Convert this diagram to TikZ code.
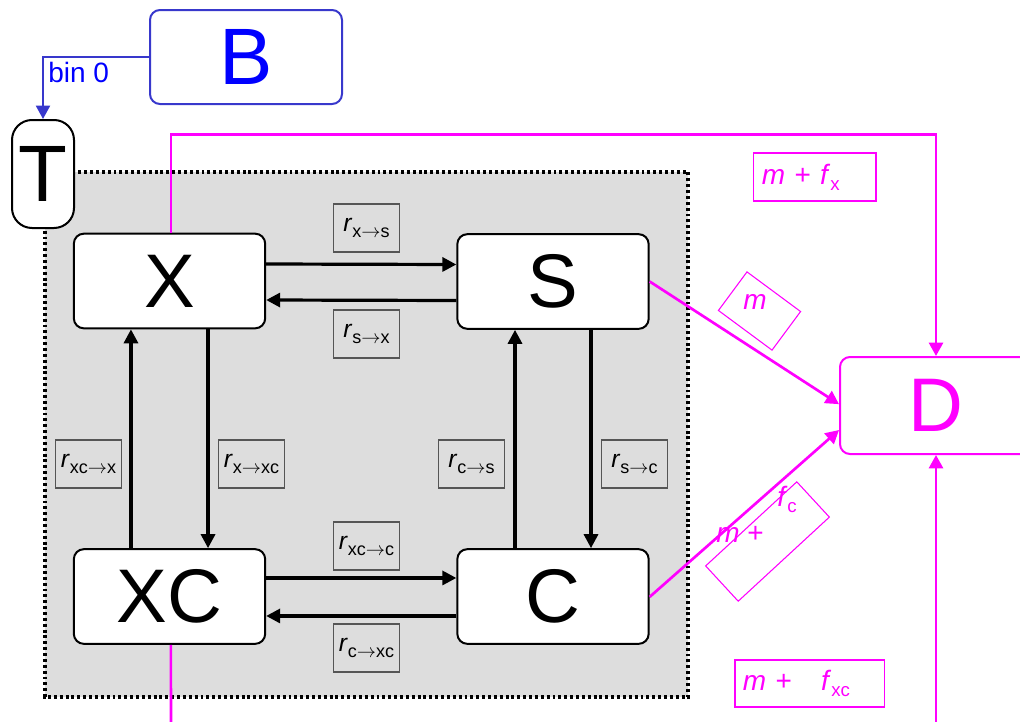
\documentclass[tikz,border=0pt]{standalone}
\usepackage{fontspec}
\setmainfont{Liberation Sans}
\usetikzlibrary{arrows.meta}
\definecolor{magen}{HTML}{FF00FF}
\definecolor{bluetxt}{HTML}{0000FF}
\definecolor{blueline}{HTML}{3838CC}
\definecolor{panel}{HTML}{DDDDDD}
\definecolor{ratebd}{HTML}{555555}
% rate label: italic r with an upright subscript "from -> to"
\newcommand\rate[2]{\textit{r}\raisebox{-0.45ex}{\fontsize{13.5}{15}\selectfont #1$\rightarrow$#2}}
% small upright subscript for the flux labels
\newcommand\flx[1]{\textit{f}\raisebox{-0.4ex}{\fontsize{14}{16}\selectfont #1}}
\begin{document}
\begin{tikzpicture}[x=0.75pt,y=-0.75pt,
  state/.style={draw=black, line width=1.5pt, fill=white, rounded corners=7.5pt,
    minimum width=143.5pt, minimum height=71pt, inner sep=0pt,
    font=\fontsize{57}{60}\selectfont},
  ratebox/.style={draw=ratebd, line width=0.8pt, fill=panel, minimum width=50pt,
    minimum height=36pt, inner sep=0pt, font=\fontsize{18.5}{20}\selectfont},
  flow/.style={line width=2.4pt, -{Triangle[length=10.5pt,width=10.5pt]}},
  magflow/.style={draw=magen, line width=2pt, -{Triangle[length=10pt,width=10.5pt]}},
  magline/.style={draw=magen, line width=2pt},
  maglbl/.style={draw=magen, line width=0.8pt, inner sep=0pt, text=magen,
    font=\fontsize{21}{24}\selectfont},
  magtxt/.style={text=magen, inner sep=0pt, font=\fontsize{21}{24}\selectfont},
]
\useasboundingbox (0,0) rectangle (1020,721);

% compartment panel
\draw[fill=panel, line width=2.4pt, dash pattern=on 2.2pt off 2.2pt] (45,172) rectangle (688,697);

% states
\node[state] (X)  at (169.5,281)   {X};
\node[state] (S)  at (553,281.5)   {S};
\node[state] (XC) at (169.5,596.5) {XC};
\node[state] (C)  at (553,596.5)   {C};

% transitions between states
\draw[flow] ([yshift=12.75pt]X.east) -- ([yshift=12.75pt]S.west);
\draw[flow] ([yshift=-14.25pt]S.west) -- ([yshift=-14.25pt]X.east);
\draw[flow] ([xshift=28.9pt]X.south) -- ([xshift=28.9pt]XC.north);
\draw[flow] ([xshift=-28.9pt]XC.north) -- ([xshift=-28.9pt]X.south);
\draw[flow] ([yshift=13.9pt]XC.east) -- ([yshift=13.9pt]C.west);
\draw[flow] ([yshift=-14.6pt]C.west) -- ([yshift=-14.6pt]XC.east);
\draw[flow] ([xshift=-28.5pt]C.north) -- ([xshift=-28.5pt]S.south);
\draw[flow] ([xshift=28.5pt]S.south) -- ([xshift=28.5pt]C.north);

% rate labels
\node[ratebox] (rxs)  at (366.5,228) {\rate{x}{s}};
\node[ratebox] (rsx)  at (366.5,334) {\rate{s}{x}};
\node[ratebox] (rxcx) at (88.5,464)  {\rate{xc}{x}};
\node[ratebox] (rxxc) at (251.5,464) {\rate{x}{xc}};
\node[ratebox] (rcs)  at (471.5,464) {\rate{c}{s}};
\node[ratebox] (rsc)  at (634.5,464) {\rate{s}{c}};
\node[ratebox] (rxcc) at (366.5,546) {\rate{xc}{c}};
\node[ratebox] (rcxc) at (366.5,648) {\rate{c}{xc}};

% death compartment and flows into it
\node[state, draw=magen, text=magen, minimum width=144pt, minimum height=72.75pt,
  font=\fontsize{57}{60}\selectfont] (D) at (936,405.5) {D};
\coordinate (xcout) at (171,735);
\coordinate (dbot) at (936,735);
\draw[magflow] ([xshift=1pt]X.north) -- ++(0,-98) -| (D.north);
\draw[magflow] (S.east) -- ([yshift=1pt]D.west);
\draw[magflow] ([yshift=-0.3pt]C.east) -- ([yshift=-18.4pt]D.west);
\draw[magline] ([xshift=1pt]XC.south) -- (xcout);
\draw[magflow] (dbot) -- (D.south);

% flow labels
\node[maglbl, minimum height=36pt, text width=79pt, inner xsep=6.6pt, align=left]
  (lx) at (814.5,177) {\textit{m} + \flx{x}};
\node[maglbl, minimum width=50pt, minimum height=36pt, rotate=-36.5] (lsbox) at (759.5,311) {};
\node[magtxt] (ls) at (755,302) {\textit{m}};
\node[maglbl, minimum width=93pt, minimum height=36pt, rotate=42.7] (lcbox) at (767.5,541.5) {};
\node[magtxt, anchor=west] (lcm) at (716,534) {\textit{m} +};
\node[magtxt, anchor=west] (lcf) at (777,499) {\flx{c}};
\node[maglbl, minimum height=35.25pt, text width=100pt, inner xsep=5.9pt, align=left]
  (lxc) at (809.5,683.5) {\textit{m} +\hspace{22pt}\flx{xc}};

% treatment entry node and its input
\node[draw=black, line width=1.5pt, fill=white, rounded corners=15pt,
  minimum width=46.5pt, minimum height=81pt, inner sep=0pt,
  font=\fontsize{60}{62}\selectfont] (T) at (43,174) {T};
\node[draw=blueline, line width=1.5pt, fill=white, rounded corners=7.5pt,
  minimum width=144pt, minimum height=70.5pt, inner sep=0pt, text=bluetxt,
  font=\fontsize{60}{62}\selectfont] (B) at (246,57) {B};
\draw[draw=blueline, line width=1.5pt, -{Triangle[length=10pt,width=10.5pt]}]
  (B.west) -| (T.north);
\node[text=bluetxt, anchor=west, inner sep=0pt, font=\fontsize{21}{24}\selectfont]
  (bin) at (48,72) {bin 0};
\end{tikzpicture}
\end{document}
